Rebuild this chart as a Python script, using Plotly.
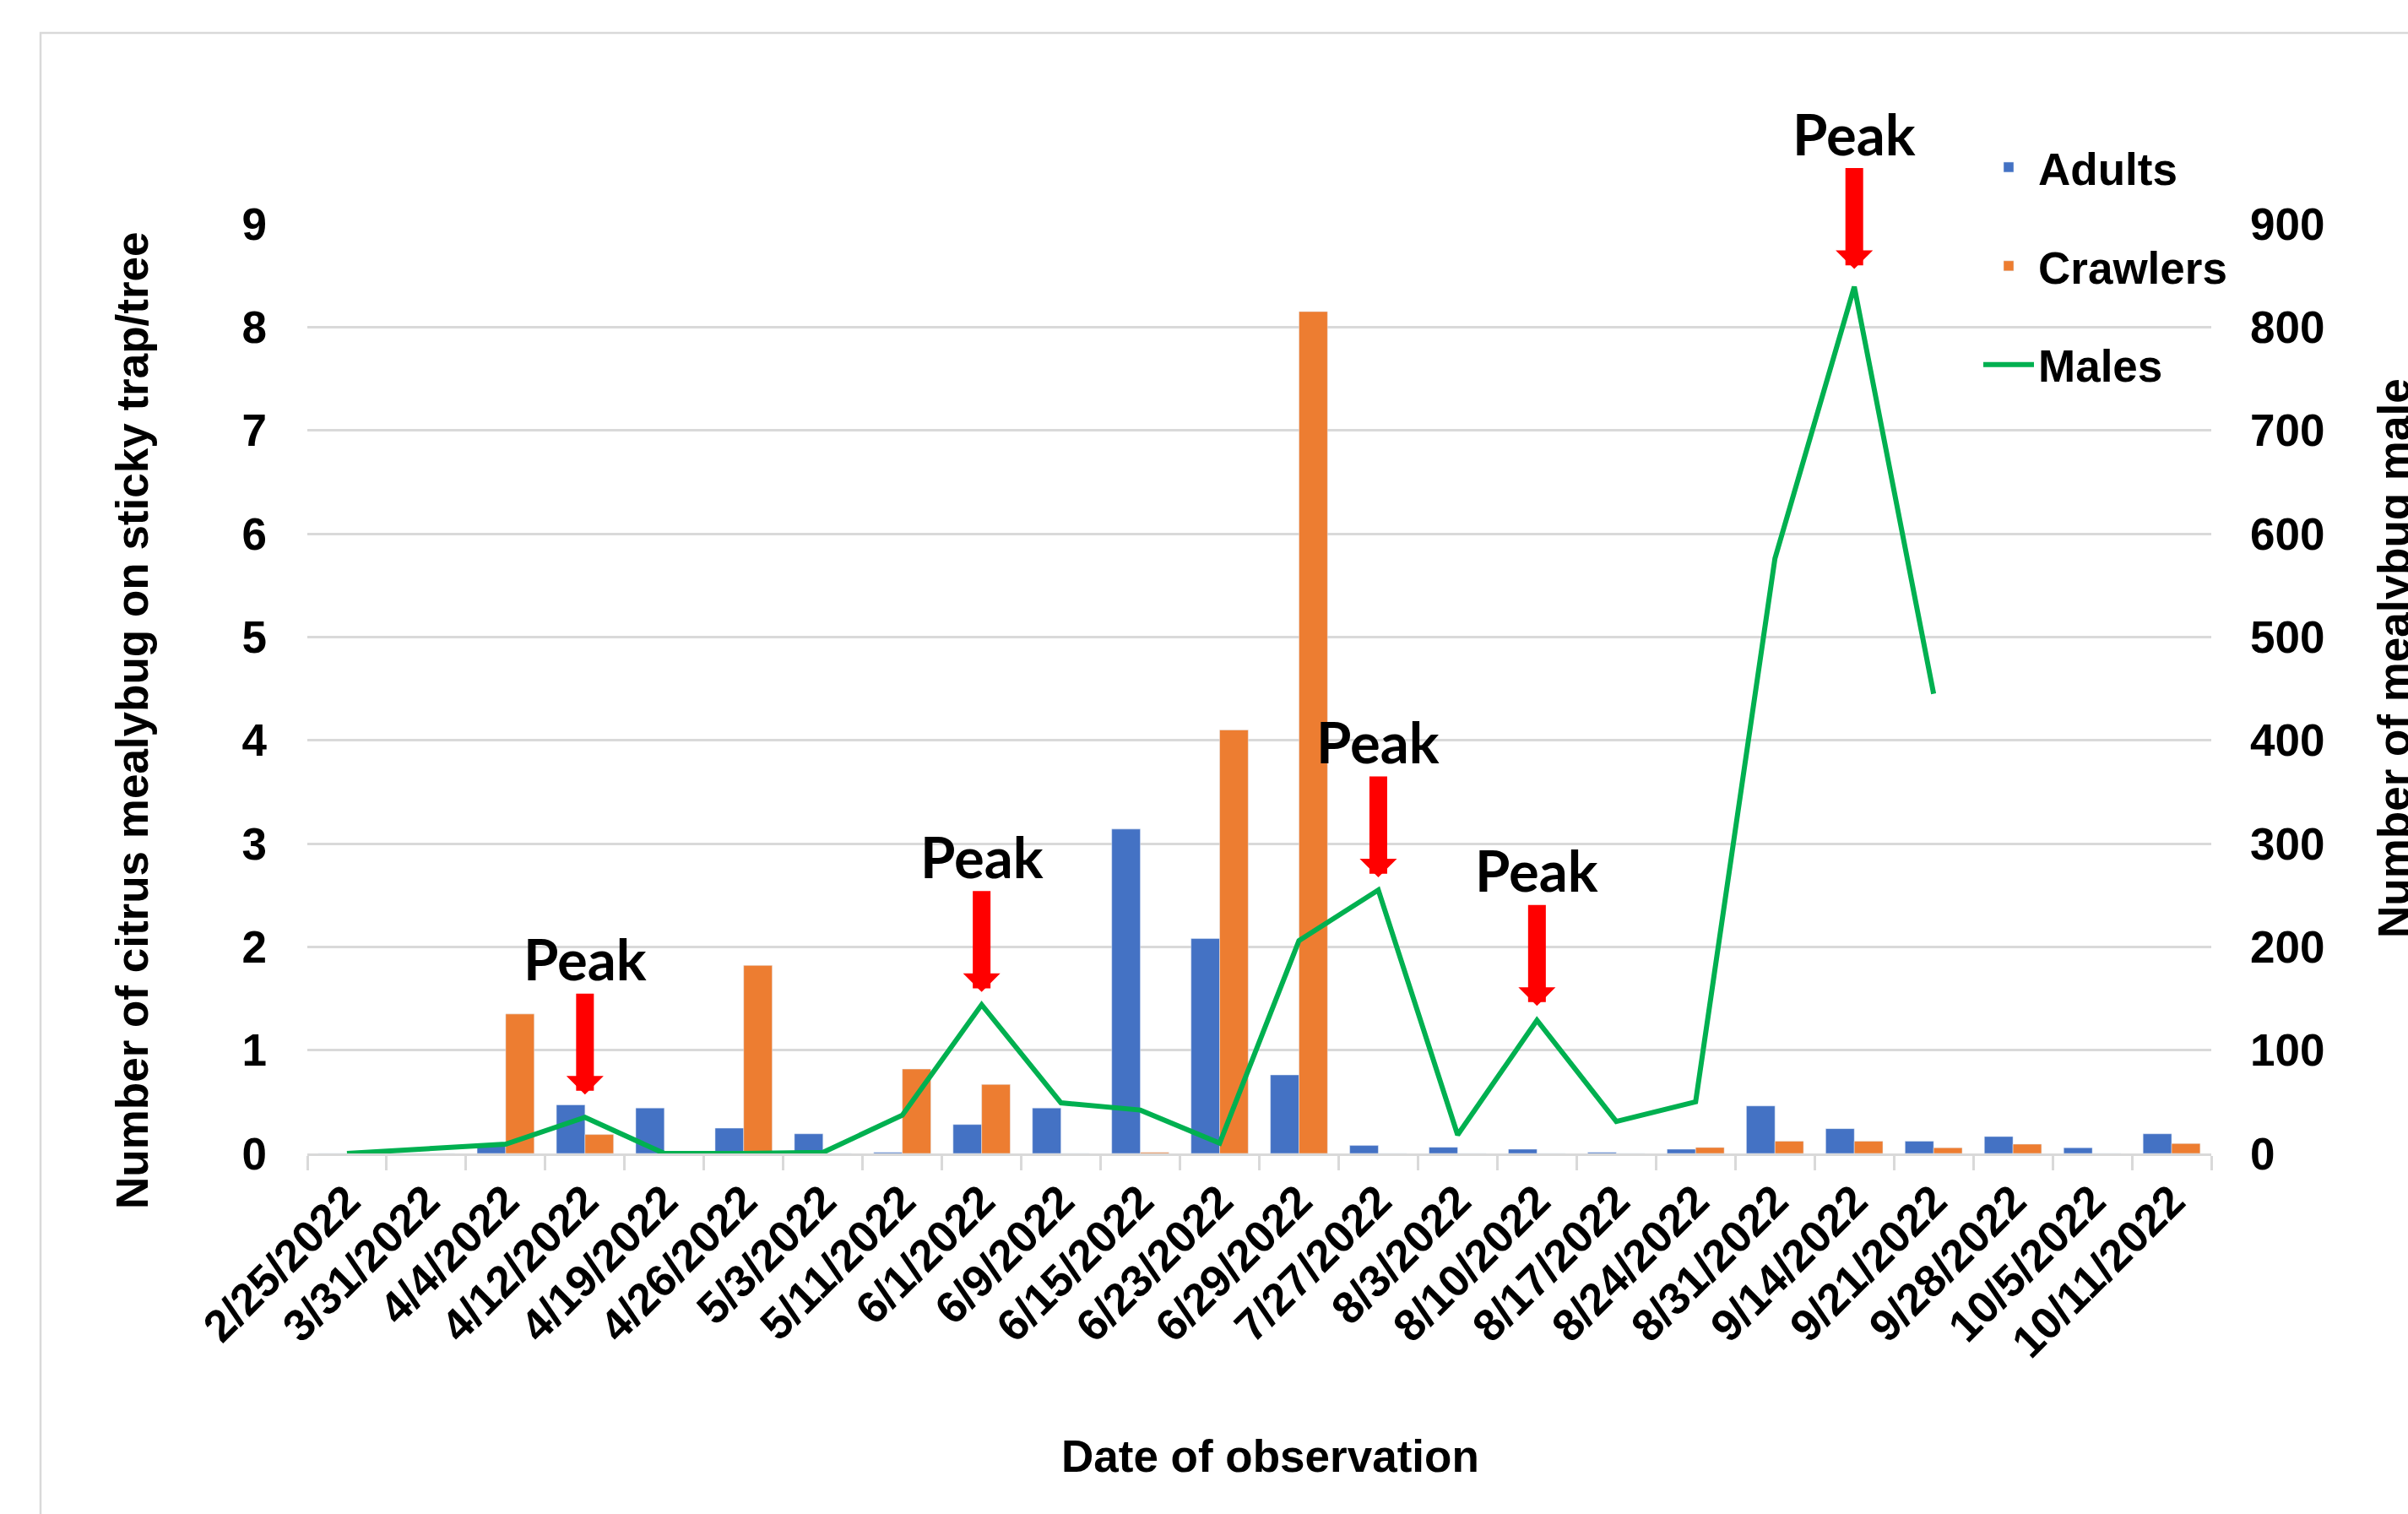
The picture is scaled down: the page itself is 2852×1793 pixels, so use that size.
import plotly.graph_objects as go

# ---------------- data ----------------
dates = ["2/25/2022", "3/31/2022", "4/4/2022", "4/12/2022", "4/19/2022", "4/26/2022",
         "5/3/2022", "5/11/2022", "6/1/2022", "6/9/2022", "6/15/2022", "6/23/2022",
         "6/29/2022", "7/27/2022", "8/3/2022", "8/10/2022", "8/17/2022", "8/24/2022",
         "8/31/2022", "9/14/2022", "9/21/2022", "9/28/2022", "10/5/2022", "10/11/2022"]
adults = [0, 0, 0.08, 0.47, 0.44, 0.245, 0.19, 0.01, 0.28, 0.44, 3.14, 2.08,
          0.76, 0.077, 0.06, 0.041, 0.011, 0.041, 0.46, 0.24, 0.118, 0.164, 0.055, 0.19]
crawlers = [0, 0, 1.35, 0.183, 0, 1.82, 0, 0.817, 0.668, 0, 0.01, 4.10,
            8.15, 0, 0, 0, 0, 0.058, 0.118, 0.118, 0.055, 0.09, 0, 0.096]
males = [0, 4, 9, 35, 0, 0, 1, 37, 144, 49, 42, 10,
         206, 255, 18, 129, 31, 50, 576, 839, 445, None, None, None]

peak_dates = ["4/12/2022", "6/1/2022", "7/27/2022", "8/10/2022", "9/14/2022"]
peak_label = "Peak"

left_ticks = list(range(0, 10))
right_ticks = list(range(0, 1000, 100))

# ---------------- styles ----------------
W, H = 2852, 1793
L, R, T, B = 364, 233, 265, 427
PW, PH = W - L - R, H - T - B
ARIAL = "Liberation Sans, Arial, sans-serif"
GRID = "#D9D9D9"
BLUE, ORANGE, GREEN = "#4472C4", "#ED7D31", "#00B050"
FS = 53


def px_x(p):
    return (p - L) / PW


def px_y(p):
    return (H - B - p) / PH


fig = go.Figure()
fig.add_trace(go.Bar(x=dates, y=adults, name="Adults", marker_color=BLUE,
                     legendgroup="a", offsetgroup="a"))
fig.add_trace(go.Bar(x=dates, y=crawlers, name="Crawlers", marker_color=ORANGE,
                     legendgroup="c", offsetgroup="c"))
fig.add_trace(go.Scatter(x=dates, y=males, name="Males", yaxis="y2", mode="lines",
                         line=dict(color=GREEN, width=6), legendgroup="m",
                         connectgaps=False))

# Peak arrows
ay_offsets = [-188, -176, -176, -178, -182]
standoffs = [27, 15, 15, 17, 21]
for d, ay, so in zip(peak_dates, ay_offsets, standoffs):
    fig.add_annotation(x=d, y=males[dates.index(d)], xref="x", yref="y2",
                       text=peak_label, showarrow=True, ax=0, ay=ay,
                       arrowhead=1, arrowsize=0.35, arrowwidth=21,
                       arrowcolor="#FF0000", standoff=so,
                       font=dict(family="Lato", size=67, color="black", weight="bold"))

# Axis titles
fig.add_annotation(text="Number of citrus mealybug on sticky trap/tree", xref="paper", yref="paper",
                   x=px_x(156), y=px_y(854), textangle=-90, showarrow=False,
                   xanchor="center", yanchor="middle",
                   font=dict(family=ARIAL, size=FS, color="black", weight="bold"))
fig.add_annotation(text="Number of mealybug male", xref="paper", yref="paper",
                   x=px_x(2835), y=px_y(780), textangle=-90, showarrow=False,
                   xanchor="center", yanchor="middle",
                   font=dict(family=ARIAL, size=FS, color="black", weight="bold"))
fig.add_annotation(text="Date of observation", xref="paper", yref="paper",
                   x=px_x(1504), y=px_y(1724), showarrow=False,
                   xanchor="center", yanchor="middle",
                   font=dict(family=ARIAL, size=FS, color="black", weight="bold"))

# chart-area border (Excel style)
fig.add_shape(type="rect", xref="paper", yref="paper",
              x0=px_x(48), x1=px_x(W + 50), y0=px_y(H + 50), y1=px_y(39),
              line=dict(color=GRID, width=2.5), layer="below")

fig.update_layout(
    width=W, height=H,
    margin=dict(l=L, r=R, t=T, b=B, autoexpand=False),
    paper_bgcolor="white", plot_bgcolor="white",
    barmode="group", bargap=0.28, bargroupgap=0,
    showlegend=True,
    legend=dict(x=px_x(2344), y=px_y(157), xanchor="left", yanchor="top",
                traceorder="grouped", tracegroupgap=45, itemwidth=60,
                font=dict(family=ARIAL, size=FS, color="black", weight="bold"),
                bgcolor="rgba(0,0,0,0)"),
    xaxis=dict(type="category", categoryorder="array", categoryarray=dates,
               tickangle=-45, showline=True, linecolor=GRID, linewidth=2.5,
               ticks="outside", tickson="boundaries", ticklen=17, tickwidth=2.5,
               tickcolor=GRID, showgrid=False, ticklabelstandoff=1,
               tickfont=dict(family=ARIAL, size=FS, color="black", weight="bold")),
    yaxis=dict(range=[0, 9], tickvals=left_ticks, showgrid=True, gridcolor=GRID,
               gridwidth=2.5, zeroline=False, showline=False, ticks="",
               ticklabelstandoff=47,
               tickfont=dict(family=ARIAL, size=FS, color="black", weight="bold")),
    yaxis2=dict(range=[0, 900], tickvals=right_ticks, overlaying="y", side="right",
                showgrid=False, zeroline=False, showline=False, ticks="",
                ticklabelstandoff=45,
                tickfont=dict(family=ARIAL, size=FS, color="black", weight="bold")),
)

fig.write_html("out.html", config={"displayModeBar": False},
               post_script="document.body.style.margin='0';document.body.style.overflow='hidden';")
